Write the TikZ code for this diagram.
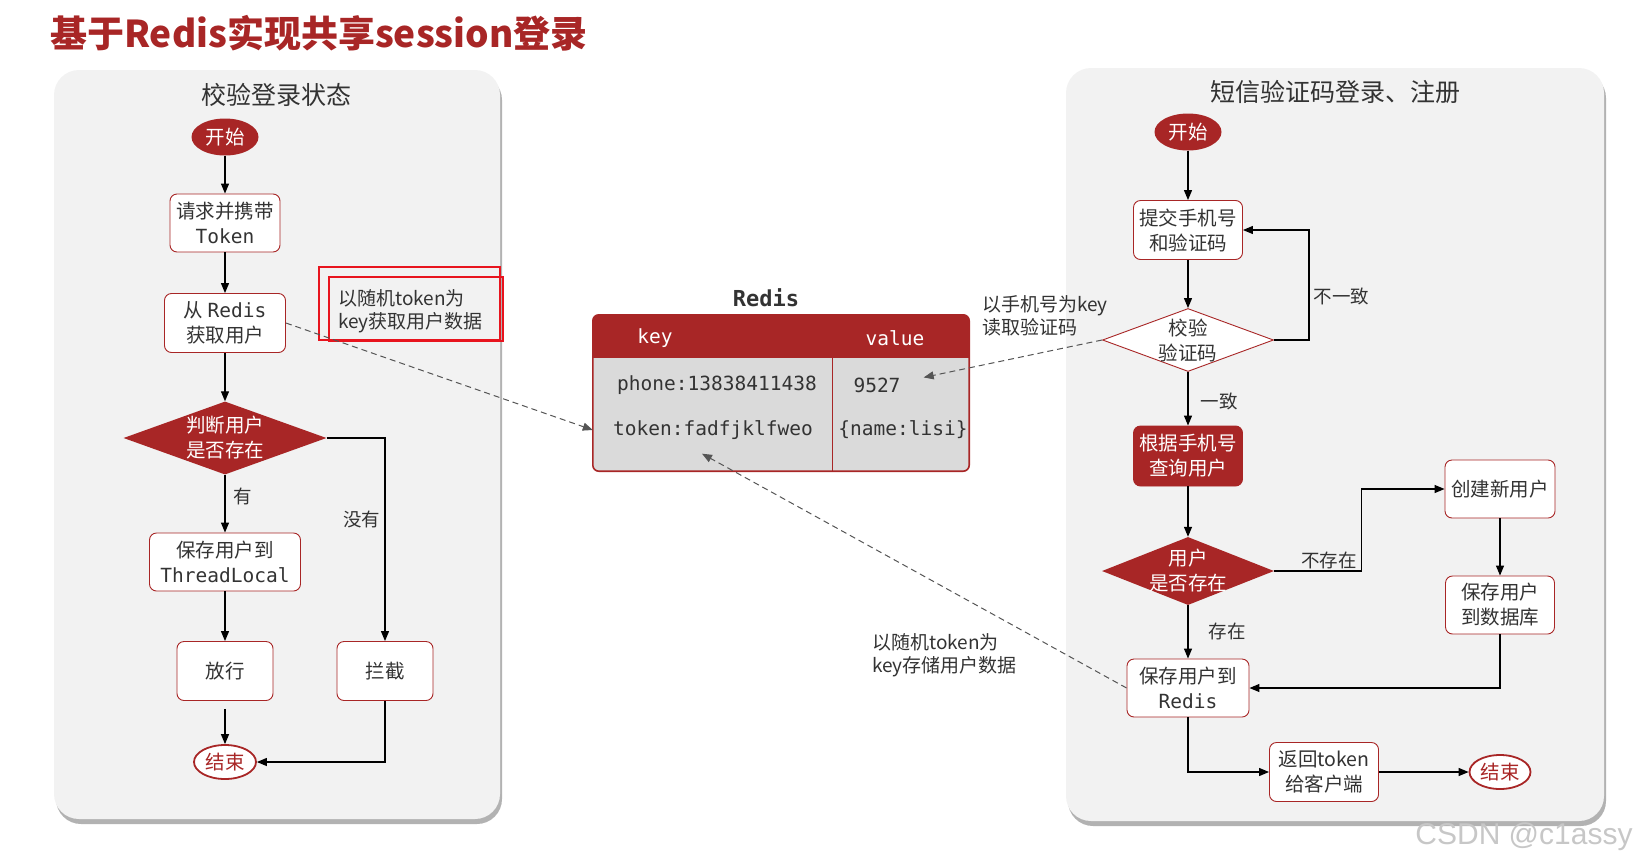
\documentclass[tikz,border=0pt]{standalone}
\usepackage{fontspec}
\setmainfont{Noto Sans CJK SC}
\newfontfamily\monofont{DejaVu Sans Mono}
\newfontfamily\wmfont{Liberation Sans}
\usetikzlibrary{shapes.geometric,arrows.meta,shadows,calc}
\definecolor{myred}{RGB}{168,38,38}
\definecolor{panelgray}{RGB}{242,242,242}
\definecolor{tablegray}{RGB}{218,218,218}
\definecolor{txtgray}{RGB}{51,51,51}
\definecolor{dashgray}{RGB}{85,85,85}
\definecolor{hlred}{RGB}{232,20,30}
\tikzset{
  base/.style={font=\fontsize{19.5}{25}\selectfont, text=txtgray, align=center, inner sep=0pt},
  panel/.style={fill=panelgray, rounded corners=25pt, inner sep=0pt, drop shadow={shadow xshift=2pt, shadow yshift=-5pt, fill=black, opacity=0.3}},
  procbox/.style={base, draw=myred, line width=0.9pt, fill=white, rounded corners=7pt},
  redbox/.style={procbox, fill=myred, text=white},
  startnode/.style={base, ellipse, fill=myred, text=white, minimum width=67pt, minimum height=37pt},
  endnode/.style={base, ellipse, draw=myred, line width=1.8pt, fill=white, text=myred, minimum width=62pt, minimum height=34pt},
  decred/.style={diamond, fill=myred, inner sep=0pt},
  decwhite/.style={diamond, draw=myred, line width=0.9pt, fill=white, inner sep=0pt},
  arr/.style={draw=black, line width=1.2pt, -{Triangle[length=10pt,width=8pt]}},
  dasharr/.style={draw=dashgray, line width=1pt, dash pattern=on 6pt off 4pt, -{Triangle[length=10pt,width=8pt]}},
  elabel/.style={font=\fontsize{18.5}{22}\selectfont, text=txtgray, inner sep=0pt},
  note/.style={font=\fontsize{19}{23}\selectfont, text=txtgray, align=left, inner sep=0pt},
  monotext/.style={font=\monofont\fontsize{19.5}{24}\selectfont, text=txtgray, inner sep=0pt},
  ptitle/.style={font=\fontsize{25}{30}\selectfont, text=txtgray, inner sep=0pt},
}
\begin{document}
\begin{tikzpicture}[x=1pt,y=-1pt]
\useasboundingbox (0,0) rectangle (1635,865);
% title
\node[anchor=west, font=\bfseries\fontsize{37}{40}\selectfont, text=myred, inner sep=0pt] (title) at (50,33) {基于Redis实现共享session登录};
% panels
\node[panel, minimum width=446pt, minimum height=749pt] (P1) at (277,444.5) {};
\node[panel, minimum width=538pt, minimum height=753pt] (P2) at (1335,444.5) {};
\node[ptitle] (t1) at (276,95) {校验登录状态};
\node[ptitle] (t2) at (1335,92) {短信验证码登录、注册};
% left flow
\node[startnode] (s1) at (225,137) {开始};
\node[procbox, minimum width=110pt, minimum height=58pt] (b1) at (225,223) {请求并携带\\{\monofont Token}};
\node[procbox, minimum width=121pt, minimum height=59pt] (b2) at (225,323) {从 {\monofont Redis}\\获取用户};
\node[decred, minimum width=203pt, minimum height=73pt, label={[base, text=white]center:{判断用户\\是否存在}}] (d1) at (225,438) {};
\node[procbox, minimum width=151pt, minimum height=58pt] (b3) at (225,562) {保存用户到\\{\monofont ThreadLocal}};
\node[procbox, minimum width=96pt, minimum height=59pt] (b4) at (225,671) {放行};
\node[procbox, minimum width=96pt, minimum height=59pt] (b5) at (385,671) {拦截};
\node[endnode] (e1) at (225,762) {结束};
\draw[arr] (s1) -- (b1);
\draw[arr] (b1) -- (b2);
\draw[arr] (b2) -- (d1);
\draw[arr] (d1) -- node[elabel, pos=0.38, anchor=west, xshift=8pt] (ly) {有} (b3);
\draw[arr] (b3) -- (b4);
\draw[arr, shorten <=8pt] (b4) -- (e1);
\draw[arr] (d1.east) -| node[elabel, pos=0.7, anchor=east, xshift=-4pt] (ln) {没有} (b5);
\draw[arr] (b5.south) |- (e1.east);
% highlight note
\draw[hlred, line width=2.5pt] (319,267) rectangle (500,340);
\draw[hlred, line width=2.5pt] (329,277) rectangle (503,341);
\node[note, anchor=west] (n1) at (338,311) {以随机token为\\key获取用户数据};
% redis table
\node[font=\monofont\bfseries\fontsize{22}{26}\selectfont, text=txtgray, inner sep=0pt] (rt) at (766,298) {Redis};
\node[fill=tablegray, rounded corners=6pt, minimum width=376pt, minimum height=156pt, inner sep=0pt] (tbl) at (781,393) {};
\fill[myred, rounded corners=6pt] (tbl.north west) rectangle ($(tbl.north east)+(0,43)$);
\fill[myred] ($(tbl.north west)+(0,30)$) rectangle ($(tbl.north east)+(0,43)$);
\draw[myred, line width=1.2pt] ($(tbl.north west)+(240,43)$) -- ($(tbl.south west)+(240,0)$);
\draw[myred, line width=1.6pt, rounded corners=6pt] (tbl.north west) rectangle (tbl.south east);
\node[monotext, text=white] (hk) at (655,338) {key};
\node[monotext, text=white] (hv) at (895,338) {value};
\node[monotext] (k1) at (717,385) {phone:13838411438};
\node[monotext] (k2) at (713,430) {token:fadfjklfweo};
\node[monotext] (v1) at (877,385) {9527};
\node[monotext] (v2) at (903,430) {\{name:lisi\}};
% right flow
\node[startnode] (s2) at (1188,132) {开始};
\node[procbox, minimum width=109pt, minimum height=59pt] (c1) at (1188,230) {提交手机号\\和验证码};
\node[decwhite, minimum width=171pt, minimum height=63pt, label={[base]center:{校验\\验证码}}] (d2) at (1188,340) {};
\node[redbox, minimum width=109pt, minimum height=60pt] (c2) at (1188,456) {根据手机号\\查询用户};
\node[decred, minimum width=172pt, minimum height=68pt, label={[base, text=white]center:{用户\\是否存在}}] (d3) at (1188,571) {};
\node[procbox, minimum width=110pt, minimum height=58pt] (c3) at (1500,489) {创建新用户};
\node[procbox, minimum width=109pt, minimum height=58pt] (c4) at (1500,605) {保存用户\\到数据库};
\node[procbox, minimum width=122pt, minimum height=58pt] (c5) at (1188,688) {保存用户到\\{\monofont Redis}};
\node[procbox, minimum width=109pt, minimum height=59pt] (c6) at (1324,772) {返回token\\给客户端};
\node[endnode, minimum width=61pt] (e2) at (1500,772) {结束};
\draw[arr] (s2) -- (c1);
\draw[arr] (c1) -- (d2);
\draw[arr] (d2.east) -- ++(35,0) |- node[elabel, pos=0.2, anchor=west, xshift=4pt] (lb) {不一致} (c1.east);
\draw[arr] (d2) -- node[elabel, pos=0.55, anchor=west, xshift=12pt] (la) {一致} (c2);
\draw[arr] (c2) -- (d3);
\draw[arr] (d3.east) -- ++(87,0) |- (c3.west);
\node[elabel] (lns) at (1329,560) {不存在};
\draw[arr] (c3) -- (c4);
\draw[arr] (c4.south) |- (c5.east);
\draw[arr] (d3) -- node[elabel, anchor=west, xshift=20pt] (le) {存在} (c5);
\draw[arr] (c5.south) |- (c6.west);
\draw[arr] (c6) -- (e2);
% notes
\node[note, anchor=west] (n2) at (982,316) {以手机号为key\\读取验证码};
\node[note, anchor=west] (n3) at (872,655) {以随机token为\\key存储用户数据};
% dashed connectors
\draw[dasharr] (b2.east) -- (k2.west -| tbl.west);
\draw[dasharr] (d2.west) -- ($(v1.north east)+(23,0)$);
\draw[dasharr] (c5.west) -- ($(k2.south)+(-11,14)$);
% watermark
\node[font=\wmfont\fontsize{30}{34}\selectfont, text=black!22, inner sep=0pt] (wm) at (1524,837) {CSDN @c1assy};
\end{tikzpicture}
\end{document}
